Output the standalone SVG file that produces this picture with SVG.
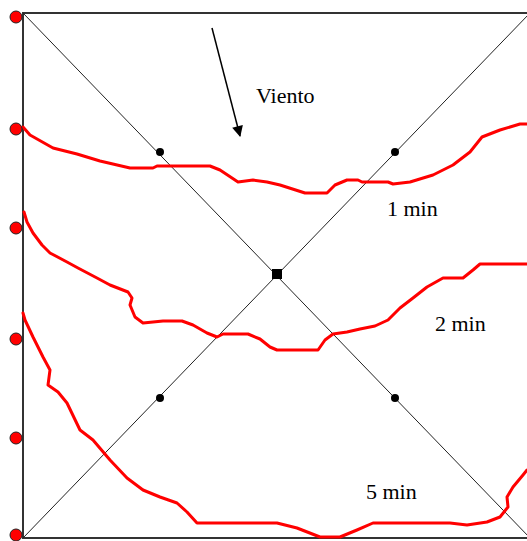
<svg xmlns="http://www.w3.org/2000/svg" width="527" height="541" viewBox="0 0 527 541">
<defs>
<style>
.frame{stroke:#333;stroke-width:2;fill:none}
.diag{stroke:#222;stroke-width:1;fill:none}
.iso{stroke:#ff0000;stroke-width:3;fill:none;stroke-linejoin:round;stroke-linecap:round}
.src{fill:#ff0000;stroke:#222;stroke-width:1}
.pt{fill:#000}
.lbl{font-family:"Liberation Serif","Times New Roman",serif;font-size:22px;fill:#000}
</style>
<marker id="ah" viewBox="0 0 10 10" refX="9" refY="5" markerWidth="17" markerHeight="11" markerUnits="userSpaceOnUse" orient="auto">
<path d="M0,0 L10,5 L0,10 z" fill="#000"/>
</marker>
</defs>
<rect width="527" height="541" fill="#fff"/>
<g id="frame">
<path class="frame" d="M527,13 L23,13 L23,538 L527,538"/>
</g>
<g id="connectors">
<line class="diag" x1="23" y1="13" x2="530" y2="538"/>
<line class="diag" x1="23" y1="538" x2="530" y2="13"/>
<line x1="212" y1="28" x2="240" y2="136" stroke="#000" stroke-width="1.5" marker-end="url(#ah)"/>
</g>
<g id="isochrone-1min">
<polyline class="iso" points="23,127 30,135 53,148 77,154 100,161 130,168 153,168 157,166 210,166 220,170 238,182 253,180 267,182 280,185 305,193 327,193 335,185 347,180 358,180 362,182 388,182 393,184 410,182 433,175 453,165 470,152 482,137 500,130 520,124 527,124"/>
</g>
<g id="isochrone-2min">
<polyline class="iso" points="24,212 27,222 33,233 42,245 50,253 67,262 78,268 97,278 110,285 128,292 132,298 130,305 135,317 143,323 163,321 182,321 193,325 207,333 217,337 223,334 248,334 260,339 270,347 277,350 318,350 325,340 333,334 347,332 360,329 375,326 388,320 400,308 413,298 427,287 443,278 463,278 473,270 480,264 527,264"/>
</g>
<g id="isochrone-5min">
<polyline class="iso" points="23,313 25,320 33,337 43,357 50,370 48,385 58,392 67,403 80,430 93,440 110,460 127,478 143,490 160,497 177,503 187,512 197,523 223,523 277,523 297,528 320,537 340,537 357,530 373,523 450,523 467,525 487,522 500,517 508,507 507,497 513,487 523,475 527,470"/>
</g>
<g id="sources">
<circle class="src" cx="16" cy="17" r="6"/>
<circle class="src" cx="16" cy="129" r="6"/>
<circle class="src" cx="16" cy="228" r="6"/>
<circle class="src" cx="16" cy="339" r="6"/>
<circle class="src" cx="16" cy="438" r="6"/>
<circle class="src" cx="16" cy="535" r="6"/>
</g>
<g id="points">
<circle class="pt" cx="160" cy="152" r="4"/>
<circle class="pt" cx="395" cy="152" r="4"/>
<circle class="pt" cx="160" cy="398" r="4"/>
<circle class="pt" cx="395" cy="398" r="4"/>
<rect class="pt" x="272" y="269" width="10" height="10"/>
</g>
<g id="labels">
<text class="lbl" x="256" y="103">Viento</text>
<text class="lbl" x="387" y="216">1 min</text>
<text class="lbl" x="435" y="331">2 min</text>
<text class="lbl" x="366" y="499">5 min</text>
</g>
</svg>
